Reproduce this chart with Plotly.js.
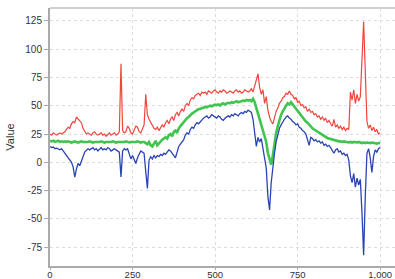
<!DOCTYPE html>
<html>
<head>
<meta charset="utf-8">
<script src="https://cdn.plot.ly/plotly-3.0.1.min.js"></script>
<style>html,body{margin:0;padding:0;background:#fff;}#chart{width:395px;height:279px;}</style>
</head>
<body>
<div id="chart"></div>
<script>
// sample positions (every 5 units from 0 to 1000)
const sampleStep = 5;
const xValues = Array.from({length: 201}, (_, i) => i * sampleStep);

const redSeries = [
  25,24,26,25,24,25,26,25,26,27,
  29,31,30,34,36,35,40,38,37,35,30,27,25,
  26,25,24,26,27,25,24,25,26,24,25,23,25,26,24,25,26,24,25,27,
  87,
  28,26,27,32,30,26,25,28,32,31,27,26,30,33,60,42,38,35,33,30,29,31,28,30,33,31,35,37,34,38,40,37,42,44,41,45,47,45,50,52,50,55,57,56,59,60,61,59,62,
  61,62,60,63,62,61,63,64,62,61,63,62,64,63,61,62,63,62,61,63,64,62,63,61,62,64,63,62,
  63,65,62,68,72,78,66,60,64,52,58,46,40,36,34,40,
  45,48,52,54,57,58,61,60,63,60,59,56,57,53,54,50,51,48,49,45,47,44,45,42,43,40,41,38,40,37,39,35,37,34,
  32,38,31,33,30,32,29,31,28,30,29,62,55,64,52,60,54,58,95,124,80,36,30,33,28,31,27,29,25,26
];

const greenSeries = [
  19,18.5,19,18,18.5,19,18,18.5,18,18.5,
  18,18.5,18,17.5,18,18.5,18,17.5,18,18.5,18,
  18,17.5,18,18.5,18,17.5,18,18,17.5,18,18.5,18,17.5,18,18,17.5,18,18.5,18,17.5,18,18,
  18,17.5,18,18.5,18,17.5,18,18,17.5,18,18.5,18,17.5,18,18,
  17,16,18,15,14,17,19,15,17,19,
  20,21,22,21,24,25,23,27,28,26,30,32,34,36,38,39,40,42,43,44,45,46,47,47,48,
  48,49,48.5,49,50,49.5,50,51,50.5,51,50,51.5,52,51,52,52.5,52,53,52.5,53,54,53,53.5,54,54.5,54,55,54.5,
  55,54,56,53,48,42,38,33,28,24,18,8,2,-2,6,18,
  26,32,38,42,45,48,50,52,51,53,51,49,47,46,44,42,40,38,36,35,33,32,30,29,28,27,26,25,24,23,22,21.5,21,20.5,
  20,19.5,19,19,18.5,18.5,18,18.5,18,18,17.5,18,17.5,18,17.5,17.5,18,17.5,17,17.5,17,17.5,17,17,17.5,17,17,16.5,17,17
];

const blueSeries = [
  14,13,13.5,12,12.5,12,11,12,10,9,
  7,4,2,0,-4,-13,-6,-1,-3,2,5,9,11,
  12,11,12,13,11,12,10,12,13,11,12,11,13,12,10,11,12,11,10,9,
  -13,10,12,11,12,8,3,6,2,-1,4,7,10,9,8,-8,-23,2,5,3,6,4,6,5,7,
  6,8,7,9,11,10,8,5,4,9,14,16,18,20,24,26,25,29,31,30,33,35,34,36,38,
  39,40,41,39,40,42,41,40,39,41,40,38,37,39,40,41,40,42,41,43,42,41,43,44,43,45,44,46,
  45,44,38,26,14,22,18,21,12,6,-5,-30,-42,-18,-3,8,
  18,24,30,33,36,38,40,41,39,38,36,35,33,34,31,30,28,27,25,20,15,22,21,19,20,18,19,17,18,15,16,14,15,13,
  10,8,11,12,9,10,7,8,6,7,2,-12,-18,-10,-22,-14,-20,-15,-45,-82,-30,8,12,4,-9,5,11,9,12,13
];

const xTickVals = [0, 250, 500, 750, 1000];
const xTickText = ['0', '250', '500', '750', '1,000'];
const yTickVals = [-75, -50, -25, 0, 25, 50, 75, 100, 125];
const yTickText = ['-75', '-50', '-25', '0', '25', '50', '75', '100', '125'];

const traces = [
  {x: xValues, y: redSeries, type: 'scatter', mode: 'lines', line: {color: '#f0453b', width: 1.2}, hoverinfo: 'skip'},
  {x: xValues, y: greenSeries, type: 'scatter', mode: 'lines', line: {color: '#3fc44e', width: 2.6}, hoverinfo: 'skip'},
  {x: xValues, y: blueSeries, type: 'scatter', mode: 'lines', line: {color: '#2a44b4', width: 1.3}, hoverinfo: 'skip'}
];

const axisFont = {family: 'Liberation Sans, Arial, sans-serif', size: 10, color: '#333'};

const layout = {
  width: 395, height: 279,
  margin: {l: 50, r: 0, t: 8, b: 13, pad: 0},
  paper_bgcolor: '#fff', plot_bgcolor: '#fff',
  showlegend: false,
  font: axisFont,
  xaxis: {
    range: [0, 1045], tickmode: 'array', tickvals: xTickVals, ticktext: xTickText,
    showline: true, linecolor: '#aaa', linewidth: 2,
    ticks: 'outside', ticklen: 2, tickcolor: '#aaa',
    ticklabelstandoff: -3,
    showgrid: true, gridcolor: '#dcdcdc', griddash: 'dot', gridwidth: 1,
    zeroline: false, tickfont: {family: 'Liberation Sans, Arial, sans-serif', size: 9.5, color: '#333'}
  },
  yaxis: {
    range: [-91.5, 136.2], tickmode: 'array', tickvals: yTickVals, ticktext: yTickText,
    showline: true, linecolor: '#aaa', linewidth: 2,
    ticks: 'outside', ticklen: 4, tickcolor: '#aaa',
    showgrid: true, gridcolor: '#dcdcdc', griddash: 'dot', gridwidth: 1,
    zeroline: false, tickfont: axisFont,
    title: {text: 'Value', font: {family: 'Liberation Sans, Arial, sans-serif', size: 11, color: '#333'}, standoff: 8}
  },
  shapes: [
    {type: 'line', xref: 'paper', yref: 'paper', x0: 0, x1: 1, y0: 1, y1: 1, line: {color: '#d0d0d0', width: 2}}
  ]
};

Plotly.newPlot('chart', traces, layout, {staticPlot: true, displayModeBar: false});
</script>
</body>
</html>
